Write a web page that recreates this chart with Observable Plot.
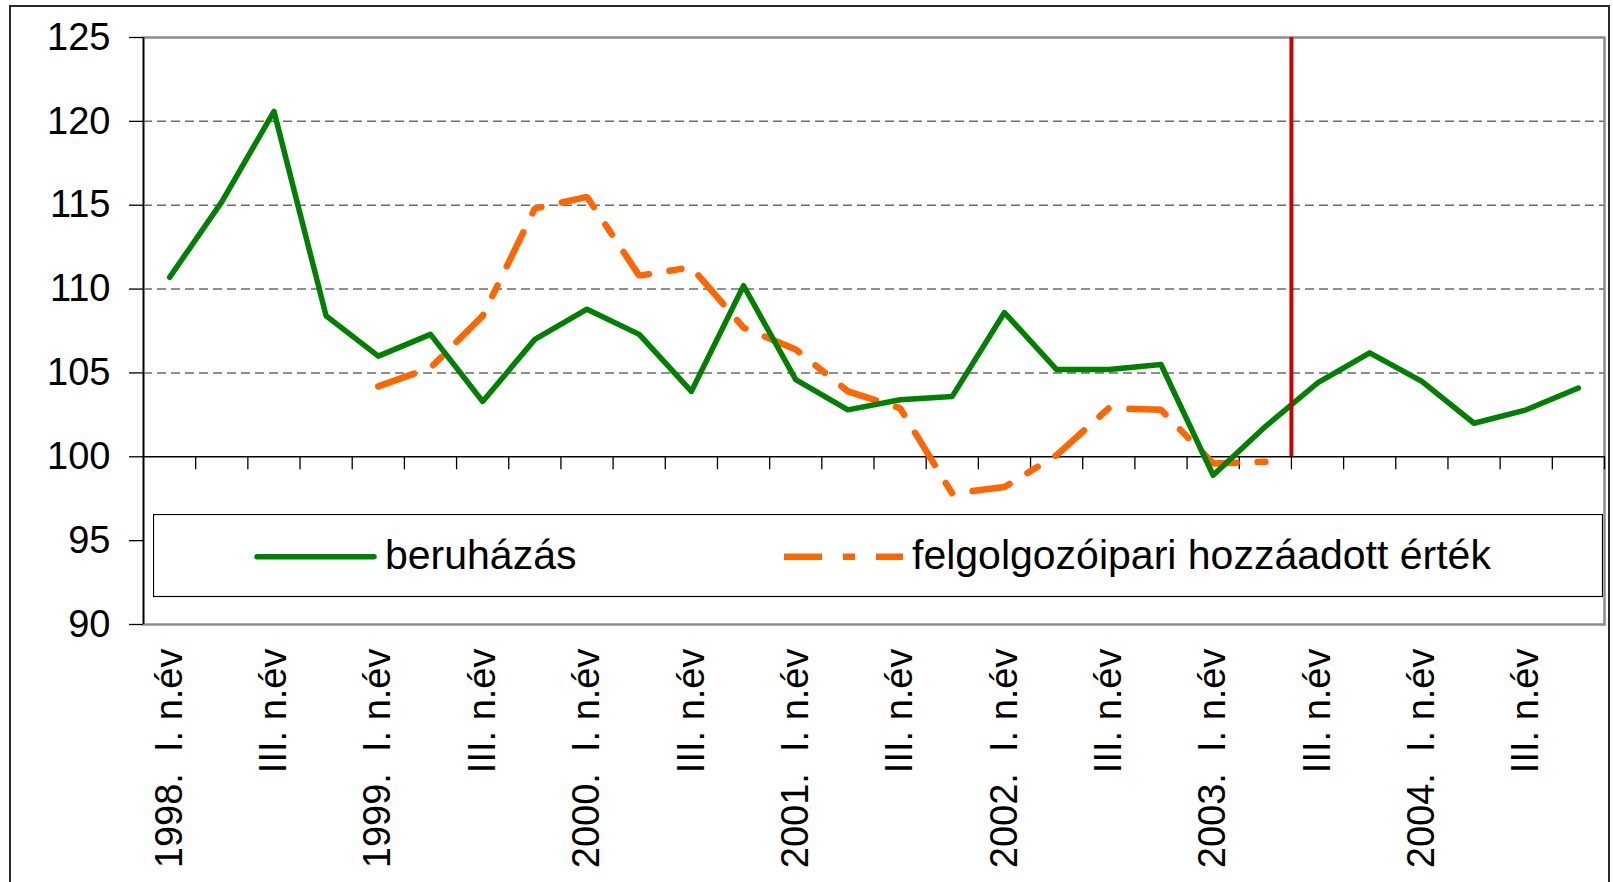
<!DOCTYPE html>
<html>
<head>
<meta charset="utf-8">
<script src="https://cdn.jsdelivr.net/npm/d3@7"></script>
<script src="https://cdn.jsdelivr.net/npm/@observablehq/plot@0.6"></script>
<style>
  html, body { margin: 0; padding: 0; background: #fff; overflow: hidden; }
  #wrap { position: relative; width: 1613px; height: 882px; overflow: hidden; }
  #chart svg text { white-space: pre; }
  #border { position: absolute; left: 9px; top: 5px; width: 1601px; height: 900px;
            border: 2px solid #2a2a2a; box-sizing: border-box; pointer-events: none; }
  #legend { position: absolute; left: 153px; top: 514px; }
</style>
</head>
<body>
<div id="wrap">
  <div id="chart"></div>
  <div id="border"></div>
  <svg id="legend" width="1450" height="84" xmlns="http://www.w3.org/2000/svg"></svg>
</div>
<script>
// Quarters 1998 Q1 – 2004 Q4
const quarters = [
  "1998Q1","1998Q2","1998Q3","1998Q4",
  "1999Q1","1999Q2","1999Q3","1999Q4",
  "2000Q1","2000Q2","2000Q3","2000Q4",
  "2001Q1","2001Q2","2001Q3","2001Q4",
  "2002Q1","2002Q2","2002Q3","2002Q4",
  "2003Q1","2003Q2","2003Q3","2003Q4",
  "2004Q1","2004Q2","2004Q3","2004Q4"
];
// Tick labels (every second quarter)
const tickLabels = [
  "1998.  I. n.év","","III. n.év","",
  "1999.  I. n.év","","III. n.év","",
  "2000.  I. n.év","","III. n.év","",
  "2001.  I. n.év","","III. n.év","",
  "2002.  I. n.év","","III. n.év","",
  "2003.  I. n.év","","III. n.év","",
  "2004.  I. n.év","","III. n.év",""
];
// Series
const beruhazas = [
  110.7, 115.2, 120.6, 108.4,
  106.0, 107.3, 103.3, 107.0,
  108.8, 107.3, 103.9, 110.2,
  104.6, 102.8, 103.4, 103.6,
  108.6, 105.2, 105.2, 105.5,
  98.9, 101.8, 104.4, 106.2,
  104.5, 102.0, 102.8, 104.1
];
const felgolgozoipari = [
  null, null, null, null,
  104.2, 105.3, 108.4, 114.8,
  115.5, 110.8, 111.3, 107.7,
  106.4, 103.9, 102.9, 97.8,
  98.2, 100.1, 102.9, 102.8,
  99.6, 99.7, null, null,
  null, null, null, null
];
const seriesNames = ["beruházás", "felgolgozóipari hozzáadott érték"];
const seriesColors = ["#008000", "#ff6600"];
const yTicks = [90, 95, 100, 105, 110, 115, 120, 125];
const gridValues = [105, 110, 115, 120];
const forecastStart = 22; // boundary before 2003 Q3

const data = quarters.map((q, i) => ({
  i, q, label: tickLabels[i], b: beruhazas[i], f: felgolgozoipari[i]
}));
const xc = d => d.i + 0.5;

const chart = Plot.plot({
  width: 1613,
  height: 882,
  marginLeft: 143,
  marginRight: 9,
  marginTop: 37,
  marginBottom: 258,
  x: { domain: [0, quarters.length], axis: null },
  y: { domain: [90, 125], axis: null },
  style: { fontFamily: "'Liberation Sans', Arial, sans-serif", background: "transparent", color: "#000", overflow: "visible" },
  marks: [
    Plot.ruleY(gridValues, { stroke: "#6a6a6a", strokeWidth: 1.5, strokeDasharray: "9,5" }),
    Plot.frame({ stroke: "#8c8c8c", strokeWidth: 2.5 }),
    Plot.ruleY([100], { stroke: "#000", strokeWidth: 1.5 }),
    Plot.ruleX(d3.range(1, quarters.length + 1), { x: d => d, y1: 100, y2: 100, insetBottom: -13, stroke: "#000", strokeWidth: 1.3 }),
    Plot.ruleX([0], { stroke: "#000", strokeWidth: 1.5 }),
    Plot.axisY({ ticks: yTicks, tickSize: 14, tickPadding: 19, fontSize: 38, tickFormat: d => String(d), stroke: "#000", fill: "#000", strokeWidth: 1.3 }),
    Plot.text(data.filter(d => d.label), {
      x: xc, y: 90, text: "label", rotate: -90, textAnchor: "end", lineAnchor: "middle",
      dy: 24, fontSize: 38, fill: "#000"
    }),
    Plot.line(data, { x: xc, y: "f", stroke: seriesColors[1], strokeWidth: 6.5, strokeDasharray: "38,21,12,21", strokeLinejoin: "miter" }),
    Plot.line(data, { x: xc, y: "b", stroke: seriesColors[0], strokeWidth: 5.5, strokeLinejoin: "round" }),
    Plot.ruleX([forecastStart], { y1: 100, y2: 125, stroke: "#cc0000", strokeWidth: 4 })
  ]
});
document.getElementById("chart").appendChild(chart);

// Legend box (overlaid inside the plot area, as in the original)
const lg = d3.select("#legend");
lg.append("rect").attr("x", 0.5).attr("y", 0.5).attr("width", 1449).attr("height", 82)
  .attr("fill", "#fff").attr("stroke", "#000").attr("stroke-width", 1.2);
lg.append("line").attr("x1", 104).attr("x2", 221).attr("y1", 42.7).attr("y2", 42.7)
  .attr("stroke", seriesColors[0]).attr("stroke-width", 5.5).attr("stroke-linecap", "round");
lg.append("text").attr("x", 232).attr("y", 55).text(seriesNames[0])
  .attr("font-family", "'Liberation Sans', Arial, sans-serif").attr("font-size", 41).attr("fill", "#000");
lg.append("line").attr("x1", 631).attr("x2", 750).attr("y1", 42.7).attr("y2", 42.7)
  .attr("stroke", seriesColors[1]).attr("stroke-width", 6.5).attr("stroke-dasharray", "38,21,12,21");
lg.append("text").attr("x", 759).attr("y", 55).text(seriesNames[1])
  .attr("font-family", "'Liberation Sans', Arial, sans-serif").attr("font-size", 41).attr("fill", "#000");
</script>
</body>
</html>
